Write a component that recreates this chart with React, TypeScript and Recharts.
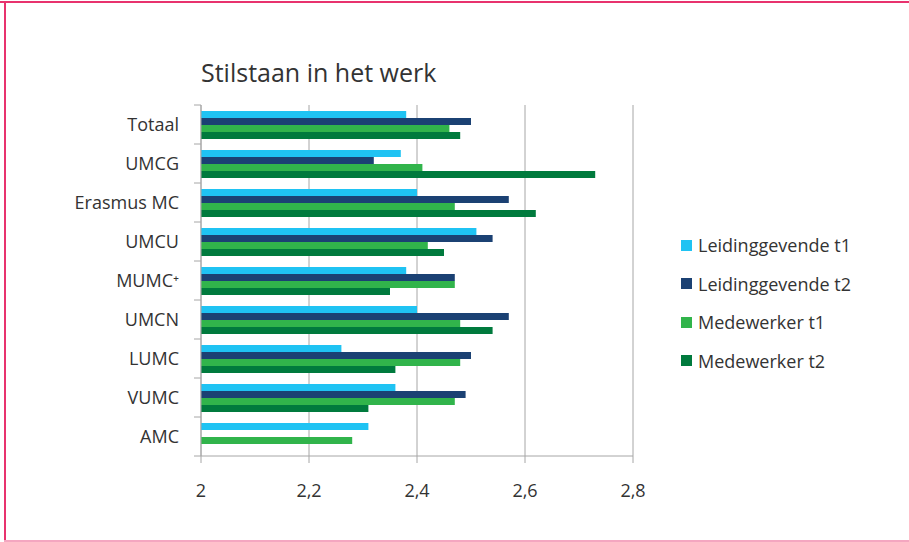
import React from "react";
import { BarChart, Bar, XAxis, YAxis, CartesianGrid } from "recharts";

const categories = ["Totaal", "UMCG", "Erasmus MC", "UMCU", "MUMC⁺", "UMCN", "LUMC", "VUMC", "AMC"];
const leidinggevendeT1 = [2.38, 2.37, 2.4, 2.51, 2.38, 2.4, 2.26, 2.36, 2.31];
const leidinggevendeT2 = [2.5, 2.32, 2.57, 2.54, 2.47, 2.57, 2.5, 2.49, null];
const medewerkerT1 = [2.46, 2.41, 2.47, 2.42, 2.47, 2.48, 2.48, 2.47, 2.28];
const medewerkerT2 = [2.48, 2.73, 2.62, 2.45, 2.35, 2.54, 2.36, 2.31, null];
const xTicks = [2, 2.2, 2.4, 2.6, 2.8];

const series = [
  { key: "lt1", name: "Leidinggevende t1", color: "#1FC3F3", values: leidinggevendeT1 },
  { key: "lt2", name: "Leidinggevende t2", color: "#1B4173", values: leidinggevendeT2 },
  { key: "mt1", name: "Medewerker t1", color: "#31B44B", values: medewerkerT1 },
  { key: "mt2", name: "Medewerker t2", color: "#007A3D", values: medewerkerT2 },
];

const data = categories.map((name, i) => {
  const row: Record<string, string | number | null> = { name };
  series.forEach((s) => (row[s.key] = s.values[i]));
  return row;
});

const W = 909;
const H = 542;
const PLOT_LEFT = 201;
const PLOT_TOP = 105;
const PLOT_BOTTOM = 456;
const BAND = (PLOT_BOTTOM - PLOT_TOP) / categories.length;
const FONT = "'Open Sans', 'Noto Sans', sans-serif";
const AXIS = "#A6A6A6";

function CatTick(props: any) {
  const { y, payload, index } = props;
  return (
    <g>
      <line x1={PLOT_LEFT - 7} x2={PLOT_LEFT} y1={y - BAND / 2} y2={y - BAND / 2} stroke={AXIS} />
      {index === categories.length - 1 && (
        <line x1={PLOT_LEFT - 7} x2={PLOT_LEFT} y1={y + BAND / 2} y2={y + BAND / 2} stroke={AXIS} />
      )}
      <text x={PLOT_LEFT - 22} y={y} dy="0.35em" textAnchor="end" fontSize={18} fill="#333" fontFamily={FONT}>
        {payload.value}
      </text>
    </g>
  );
}

export default function App() {
  return (
    <div style={{ position: "absolute", left: 0, top: 0, width: W, height: H, background: "#fff", fontFamily: FONT }}>
      <div style={{ position: "absolute", left: 0, right: 0, top: 1, height: 2, background: "#E8336E" }} />
      <div style={{ position: "absolute", left: 4, top: 1, width: 2, bottom: 0, background: "#E8336E" }} />
      <div style={{ position: "absolute", left: 4, right: 0, bottom: 0, height: 2, background: "#F4A6C0" }} />
      <div style={{ position: "absolute", left: 201, top: 60, fontSize: 25, lineHeight: "25px", color: "#333" }}>
        Stilstaan in het werk
      </div>
      <div style={{ position: "absolute", left: 0, top: 0 }}>
        <BarChart
          width={W}
          height={H}
          data={data}
          layout="vertical"
          barSize={7}
          barGap={0}
          margin={{ top: PLOT_TOP, right: W - 633, bottom: H - PLOT_BOTTOM - 30, left: 0 }}
        >
          <CartesianGrid horizontal={false} vertical stroke={AXIS} />
          <XAxis
            type="number"
            domain={[2, 2.8]}
            ticks={xTicks}
            height={30}
            allowDataOverflow
            tickFormatter={(v: number) => String(v).replace(".", ",")}
            tick={{ fontSize: 18, fill: "#333", fontFamily: FONT }}
            tickSize={7}
            tickMargin={21}
            stroke={AXIS}
          />
          <YAxis
            type="category"
            dataKey="name"
            width={PLOT_LEFT}
            tickLine={false}
            tick={<CatTick />}
            interval={0}
            stroke={AXIS}
          />
          {series.map((s) => (
            <Bar key={s.key} dataKey={s.key} name={s.name} fill={s.color} isAnimationActive={false} />
          ))}
        </BarChart>
      </div>
      {series.map((s, i) => (
        <div
          key={s.key}
          style={{ position: "absolute", left: 681, top: 245 + i * 38.5 - 12, height: 24, display: "flex", alignItems: "center" }}
        >
          <div style={{ width: 11, height: 11, background: s.color, marginRight: 6 }} />
          <span style={{ fontSize: 18, color: "#333" }}>{s.name}</span>
        </div>
      ))}
    </div>
  );
}
